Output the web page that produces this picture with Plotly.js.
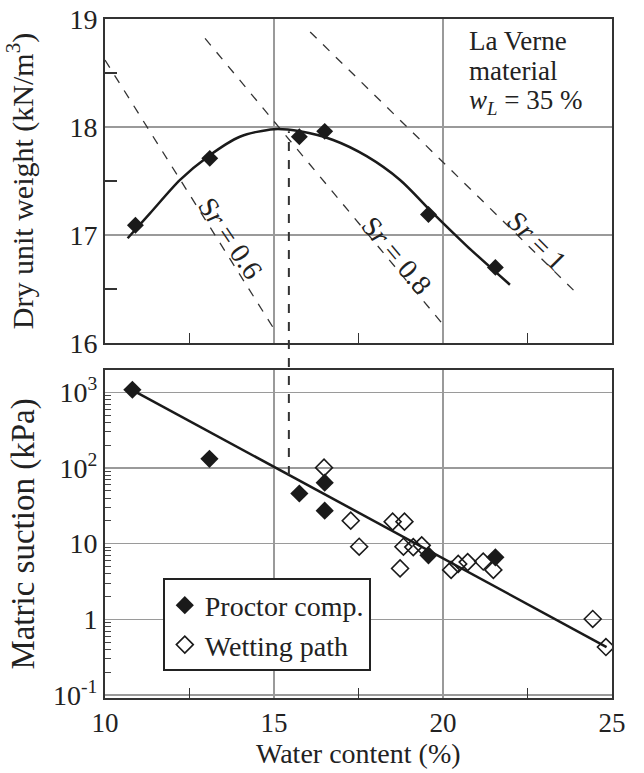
<!DOCTYPE html>
<html>
<head>
<meta charset="utf-8">
<script src="https://cdn.plot.ly/plotly-3.0.1.min.js"></script>
<style>html,body{margin:0;padding:0;background:#fff;}#chart{width:644px;height:773px;}</style>
</head>
<body>
<div id="chart"></div>
<script>
// ---- Data ----
// Proctor compaction points (top: dry unit weight; bottom: matric suction)
const wProctorTop = [10.9, 13.1, 15.75, 16.5, 19.57, 21.55];
const gammaProctor = [17.09, 17.71, 17.91, 17.96, 17.19, 16.70];
// Compaction curve
const wCurve = [10.67, 11.33, 12.22, 13.06, 13.99, 15.0, 15.77, 16.75, 17.74, 18.73, 19.71, 20.70, 21.98];
const gammaCurve = [16.97, 17.20, 17.51, 17.73, 17.91, 17.98, 17.96, 17.88, 17.73, 17.51, 17.20, 16.90, 16.54];
// Saturation lines
const wSr06 = [10.0, 15.0];   const gSr06 = [18.62, 16.13];
const wSr08 = [12.96, 20.11]; const gSr08 = [18.82, 16.13];
const wSr10 = [16.07, 23.86]; const gSr10 = [18.88, 16.49];
const srLabels = ["S<i>r</i> = 0.6", "S<i>r</i> = 0.8", "S<i>r</i> = 1"];
const srLabelW = [13.72, 18.63, 22.77];
const srLabelG = [16.97, 16.81, 16.95];
const srLabelAngle = [56, 50, 45];
// Material note
const noteLines = ["La Verne", "material", "<i>w<sub>L</sub></i> = 35 %"];
const noteW = 20.7;
const noteG = [18.80, 18.52, 18.235];
// Matric suction
const wProctorBot = [10.81, 13.09, 15.75, 16.5, 16.5, 19.57, 21.55];
const suctionProctor = [1080, 132, 46, 64, 27.3, 7.0, 6.6];
const wWetting = [16.48, 17.27, 17.52, 18.51, 18.86, 18.73, 18.83, 19.12, 19.37, 20.24, 20.45, 20.73, 21.19, 21.49, 24.43, 24.82];
const suctionWetting = [101, 20.1, 9.1, 19.5, 19.5, 4.7, 9.1, 9.0, 9.5, 4.5, 5.4, 5.7, 5.8, 4.5, 1.01, 0.43];
const wFit = [10.81, 24.84];
const suctionFit = [1070, 0.43];
// Optimum water content marker
const wOpt = 15.44;
const gammaOpt = 17.96;
const suctionOpt = 81;
// Axis ticks
const xTicks = [10, 15, 20, 25];
const yTopTicks = [16, 17, 18, 19];
const yBotTicks = [0.1, 1, 10, 100, 1000];
const yBotTickText = ["10<sup>-1</sup>", "1", "10", "10<sup>2</sup>", "10<sup>3</sup>"];

// ---- Layout constants ----
const FONT = "'Liberation Serif', 'Times New Roman', serif";
const TXT = "#222";
const topDomain = [0.5228, 1];
const botDomain = [0, 0.4831];
const yTopRange = [16, 19];
const yBotRange = [-1.04, 3.295];

const black = "#1a1a1a";
const traces = [
  {x: wSr06, y: gSr06, mode: "lines", line: {color: "#333", width: 1.3, dash: "dash"}, xaxis: "x", yaxis: "y", showlegend: false, hoverinfo: "skip"},
  {x: wSr08, y: gSr08, mode: "lines", line: {color: "#333", width: 1.3, dash: "dash"}, xaxis: "x", yaxis: "y", showlegend: false, hoverinfo: "skip"},
  {x: wSr10, y: gSr10, mode: "lines", line: {color: "#333", width: 1.3, dash: "dash"}, xaxis: "x", yaxis: "y", showlegend: false, hoverinfo: "skip"},
  {x: wCurve, y: gammaCurve, mode: "lines", line: {color: black, width: 2.5, shape: "spline", smoothing: 0.8}, xaxis: "x", yaxis: "y", showlegend: false},
  {x: wProctorTop, y: gammaProctor, mode: "markers", marker: {symbol: "diamond", size: 13, color: black}, xaxis: "x", yaxis: "y", showlegend: false, legendgroup: "p"},
  {x: wFit, y: suctionFit, mode: "lines", line: {color: black, width: 2.5}, xaxis: "x2", yaxis: "y2", showlegend: false},
  {x: wWetting, y: suctionWetting, mode: "markers", name: "Wetting path", legendrank: 2,
   marker: {symbol: "diamond-open", size: 13, color: black, line: {width: 1.6, color: black}}, xaxis: "x2", yaxis: "y2"},
  {x: wProctorBot, y: suctionProctor, mode: "markers", name: "Proctor comp.", legendrank: 1, legendgroup: "p",
   marker: {symbol: "diamond", size: 14, color: black}, xaxis: "x2", yaxis: "y2"}
];

function topPaper(g) { return topDomain[0] + (g - yTopRange[0]) / (yTopRange[1] - yTopRange[0]) * (topDomain[1] - topDomain[0]); }
function botPaper(s) { return botDomain[0] + (Math.log10(s) - yBotRange[0]) / (yBotRange[1] - yBotRange[0]) * (botDomain[1] - botDomain[0]); }

const annotations = srLabels.map((t, i) => ({
  x: srLabelW[i], y: srLabelG[i], xref: "x", yref: "y", text: t, showarrow: false,
  textangle: srLabelAngle[i], font: {family: FONT, size: 28, color: TXT}
}));
noteLines.forEach((t, i) => annotations.push({
  x: noteW, y: noteG[i], xref: "x", yref: "y", xanchor: "left", yanchor: "middle", align: "left", showarrow: false,
  text: t, font: {family: FONT, size: 27, color: TXT}
}));
// x-axis title placed as annotation for precise vertical position
annotations.push({
  x: 0.5, y: 0, xref: "paper", yref: "paper", xanchor: "center", yanchor: "top", yshift: -38, showarrow: false,
  text: "Water content (%)", font: {family: FONT, size: 28, color: TXT}
});

const axisCommon = {
  showline: true, linecolor: "#333", linewidth: 2, mirror: true,
  showgrid: true, gridcolor: "#9a9a9a", gridwidth: 1.5, zeroline: false,
  ticks: "", tickfont: {family: FONT, size: 28, color: TXT}
};

const layout = {
  width: 644, height: 773,
  margin: {l: 105, r: 32, t: 19, b: 75},
  paper_bgcolor: "#fff", plot_bgcolor: "#fff",
  font: {family: FONT, color: TXT, size: 28},
  showlegend: true,
  legend: {x: 0.114, y: 0.176, xanchor: "left", yanchor: "top", bgcolor: "#fff", bordercolor: "#222", borderwidth: 2,
           font: {family: FONT, size: 28, color: TXT}, itemwidth: 30, tracegroupgap: 0, traceorder: "normal"},
  xaxis: Object.assign({}, axisCommon, {domain: [0, 1], range: [10, 25], tickvals: xTicks, showticklabels: false, anchor: "y",
          minor: {tickvals: [12.5, 17.5, 22.5], ticks: "inside", ticklen: 10, tickcolor: "#333", tickwidth: 1.5, showgrid: false}}),
  yaxis: Object.assign({}, axisCommon, {domain: topDomain, range: yTopRange, tickvals: yTopTicks, anchor: "x",
          minor: {tickvals: [16.5, 17.5, 18.5], ticks: "inside", ticklen: 12, tickcolor: "#333", tickwidth: 1.5, showgrid: false},
          title: {text: "Dry unit weight (kN/m<sup>3</sup>)", font: {family: FONT, size: 30, color: TXT}, standoff: 27}}),
  xaxis2: Object.assign({}, axisCommon, {domain: [0, 1], range: [10, 25], tickvals: xTicks, anchor: "y2",
          tickfont: {family: FONT, size: 27, color: TXT},
          minor: {tickvals: [12.5, 17.5, 22.5], ticks: "inside", ticklen: 10, tickcolor: "#333", tickwidth: 1.5, showgrid: false}}),
  yaxis2: Object.assign({}, axisCommon, {domain: botDomain, type: "log", range: yBotRange, tickvals: yBotTicks, ticktext: yBotTickText, anchor: "x2",
          minor: {tickvals: [2,3,4,5,6,7,8,9].flatMap(d => [0.1, 1, 10, 100, 1000].map(m => d * m)), ticks: "inside", ticklen: 6, tickcolor: "#444", tickwidth: 1, showgrid: false},
          title: {text: "Matric suction (kPa)", font: {family: FONT, size: 33, color: TXT}, standoff: 9}}),
  annotations: annotations,
  shapes: [{
    type: "line", xref: "x", yref: "paper", x0: wOpt, x1: wOpt,
    y0: botPaper(suctionOpt), y1: topPaper(gammaOpt),
    line: {color: "#333", width: 2, dash: "dash"}
  }]
};

Plotly.newPlot("chart", traces, layout, {displayModeBar: false, staticPlot: true});
</script>
</body>
</html>
